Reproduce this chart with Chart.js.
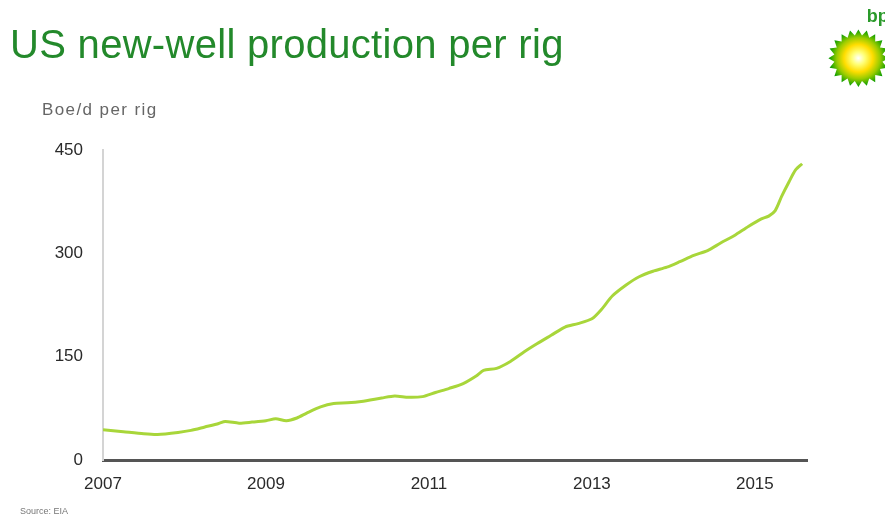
<!DOCTYPE html>
<html>
<head>
<meta charset="utf-8">
<script src="https://cdn.jsdelivr.net/npm/chart.js@4.4.1/dist/chart.umd.min.js"></script>
<style>
  html, body { margin: 0; padding: 0; background: #fff; }
  #wrap { position: relative; width: 885px; height: 517px; overflow: hidden; font-family: "Liberation Sans", Arial, sans-serif; }
  #chart { position: absolute; left: 0; top: 0; }
  #title { position: absolute; left: 10px; top: 22px; font-size: 40px; color: #23892b; white-space: nowrap; letter-spacing: 0.3px; }
  #unit { position: absolute; left: 42px; top: 100px; font-size: 17px; letter-spacing: 1.4px; color: #666; white-space: nowrap; }
  #source { position: absolute; left: 20px; top: 506px; font-size: 9px; color: #777; white-space: nowrap; }
  #logo { position: absolute; left: 820px; top: 3px; }
</style>
</head>
<body>
<div id="wrap">
  <canvas id="chart" width="885" height="517"></canvas>
  <div id="title">US new-well production per rig</div>
  <div id="unit">Boe/d per rig</div>
  <div id="source">Source: EIA</div>
  <svg id="logo" width="84" height="108" viewBox="0 0 70 90">
    <defs>
      <radialGradient id="g" cx="50%" cy="50%" r="50%">
        <stop offset="0%" stop-color="#ffffff"/>
        <stop offset="22%" stop-color="#ffff77"/>
        <stop offset="48%" stop-color="#ffdd00"/>
        <stop offset="72%" stop-color="#99cc00"/>
        <stop offset="100%" stop-color="#009900"/>
      </radialGradient>
    </defs>
    <text x="39" y="16" font-family="Liberation Sans, Arial" font-size="15" font-weight="bold" fill="#2a9a2a">bp</text>
    <polygon fill="url(#g)" points="32,22 35,27 39,23 41,29 46,26 46,32 52,31 50,37 56,38 52,43 57,46 52,49 56,54 50,55 52,61 46,60 46,66 41,63 39,69 35,65 32,70 29,65 25,69 23,63 18,66 18,60 12,61 14,55 8,54 12,49 7,46 12,43 8,38 14,37 12,31 18,32 18,26 23,29 25,23 29,27"/>
  </svg>
</div>
<script>
// ---- data ----
const timePoints = [
  2007.00, 2007.25, 2007.50, 2007.67, 2007.92, 2008.08, 2008.25, 2008.42, 2008.50, 2008.67,
  2008.83, 2009.00, 2009.12, 2009.25, 2009.38, 2009.50, 2009.67, 2009.83, 2010.00, 2010.17,
  2010.42, 2010.58, 2010.75, 2010.92, 2011.08, 2011.25, 2011.42, 2011.58, 2011.67, 2011.83,
  2012.00, 2012.17, 2012.33, 2012.50, 2012.67, 2012.83, 2013.00, 2013.12, 2013.25, 2013.42,
  2013.58, 2013.75, 2013.92, 2014.08, 2014.25, 2014.42, 2014.58, 2014.75, 2014.92, 2015.08,
  2015.17, 2015.25, 2015.33, 2015.42, 2015.50, 2015.58
];
const productionPerRig = [
  44, 41, 38, 37, 40, 43, 48, 53, 56, 53.5,
  55, 57, 60, 57, 61, 68, 77, 82, 83, 85,
  90, 93, 91, 92, 98, 104, 111, 122, 130, 133,
  143, 157, 169, 181, 193, 198, 205, 219, 238, 254,
  266, 274, 280, 288, 297, 304, 315, 326, 339, 350,
  354, 362, 383, 404, 421, 430
];
const yearTicks = [2007, 2009, 2011, 2013, 2015];
const valueTicks = [0, 150, 300, 450];

const points = timePoints.map((t, i) => ({ x: t, y: productionPerRig[i] }));

new Chart(document.getElementById('chart'), {
  type: 'line',
  data: {
    datasets: [{
      data: points,
      borderColor: '#a8d63a',
      borderWidth: 3,
      pointRadius: 0,
      tension: 0.25,
      fill: false
    }]
  },
  options: {
    responsive: false,
    animation: false,
    events: [],
    layout: { padding: { top: 150, right: 78, bottom: 0, left: 0 } },
    plugins: { legend: { display: false }, tooltip: { enabled: false } },
    scales: {
      x: {
        type: 'linear',
        min: 2007,
        max: 2015.64,
        afterBuildTicks: s => { s.ticks = yearTicks.map(v => ({ value: v })); },
        afterFit: s => { s.height = 57; },
        ticks: {
          color: '#2a2a2a',
          font: { family: 'Liberation Sans, Arial', size: 17 },
          padding: 14,
          autoSkip: false,
          maxRotation: 0,
          callback: v => String(v)
        },
        grid: { display: false, drawTicks: false },
        border: { color: '#555', width: 3 }
      },
      y: {
        min: 0,
        max: 450,
        afterBuildTicks: s => { s.ticks = valueTicks.map(v => ({ value: v })); },
        afterFit: s => { s.width = 103; },
        ticks: {
          color: '#2a2a2a',
          font: { family: 'Liberation Sans, Arial', size: 17 },
          padding: 20,
          callback: v => String(v)
        },
        grid: { display: false, drawTicks: false },
        border: { color: '#d4d4d4', width: 2 }
      }
    }
  }
});
</script>
</body>
</html>
